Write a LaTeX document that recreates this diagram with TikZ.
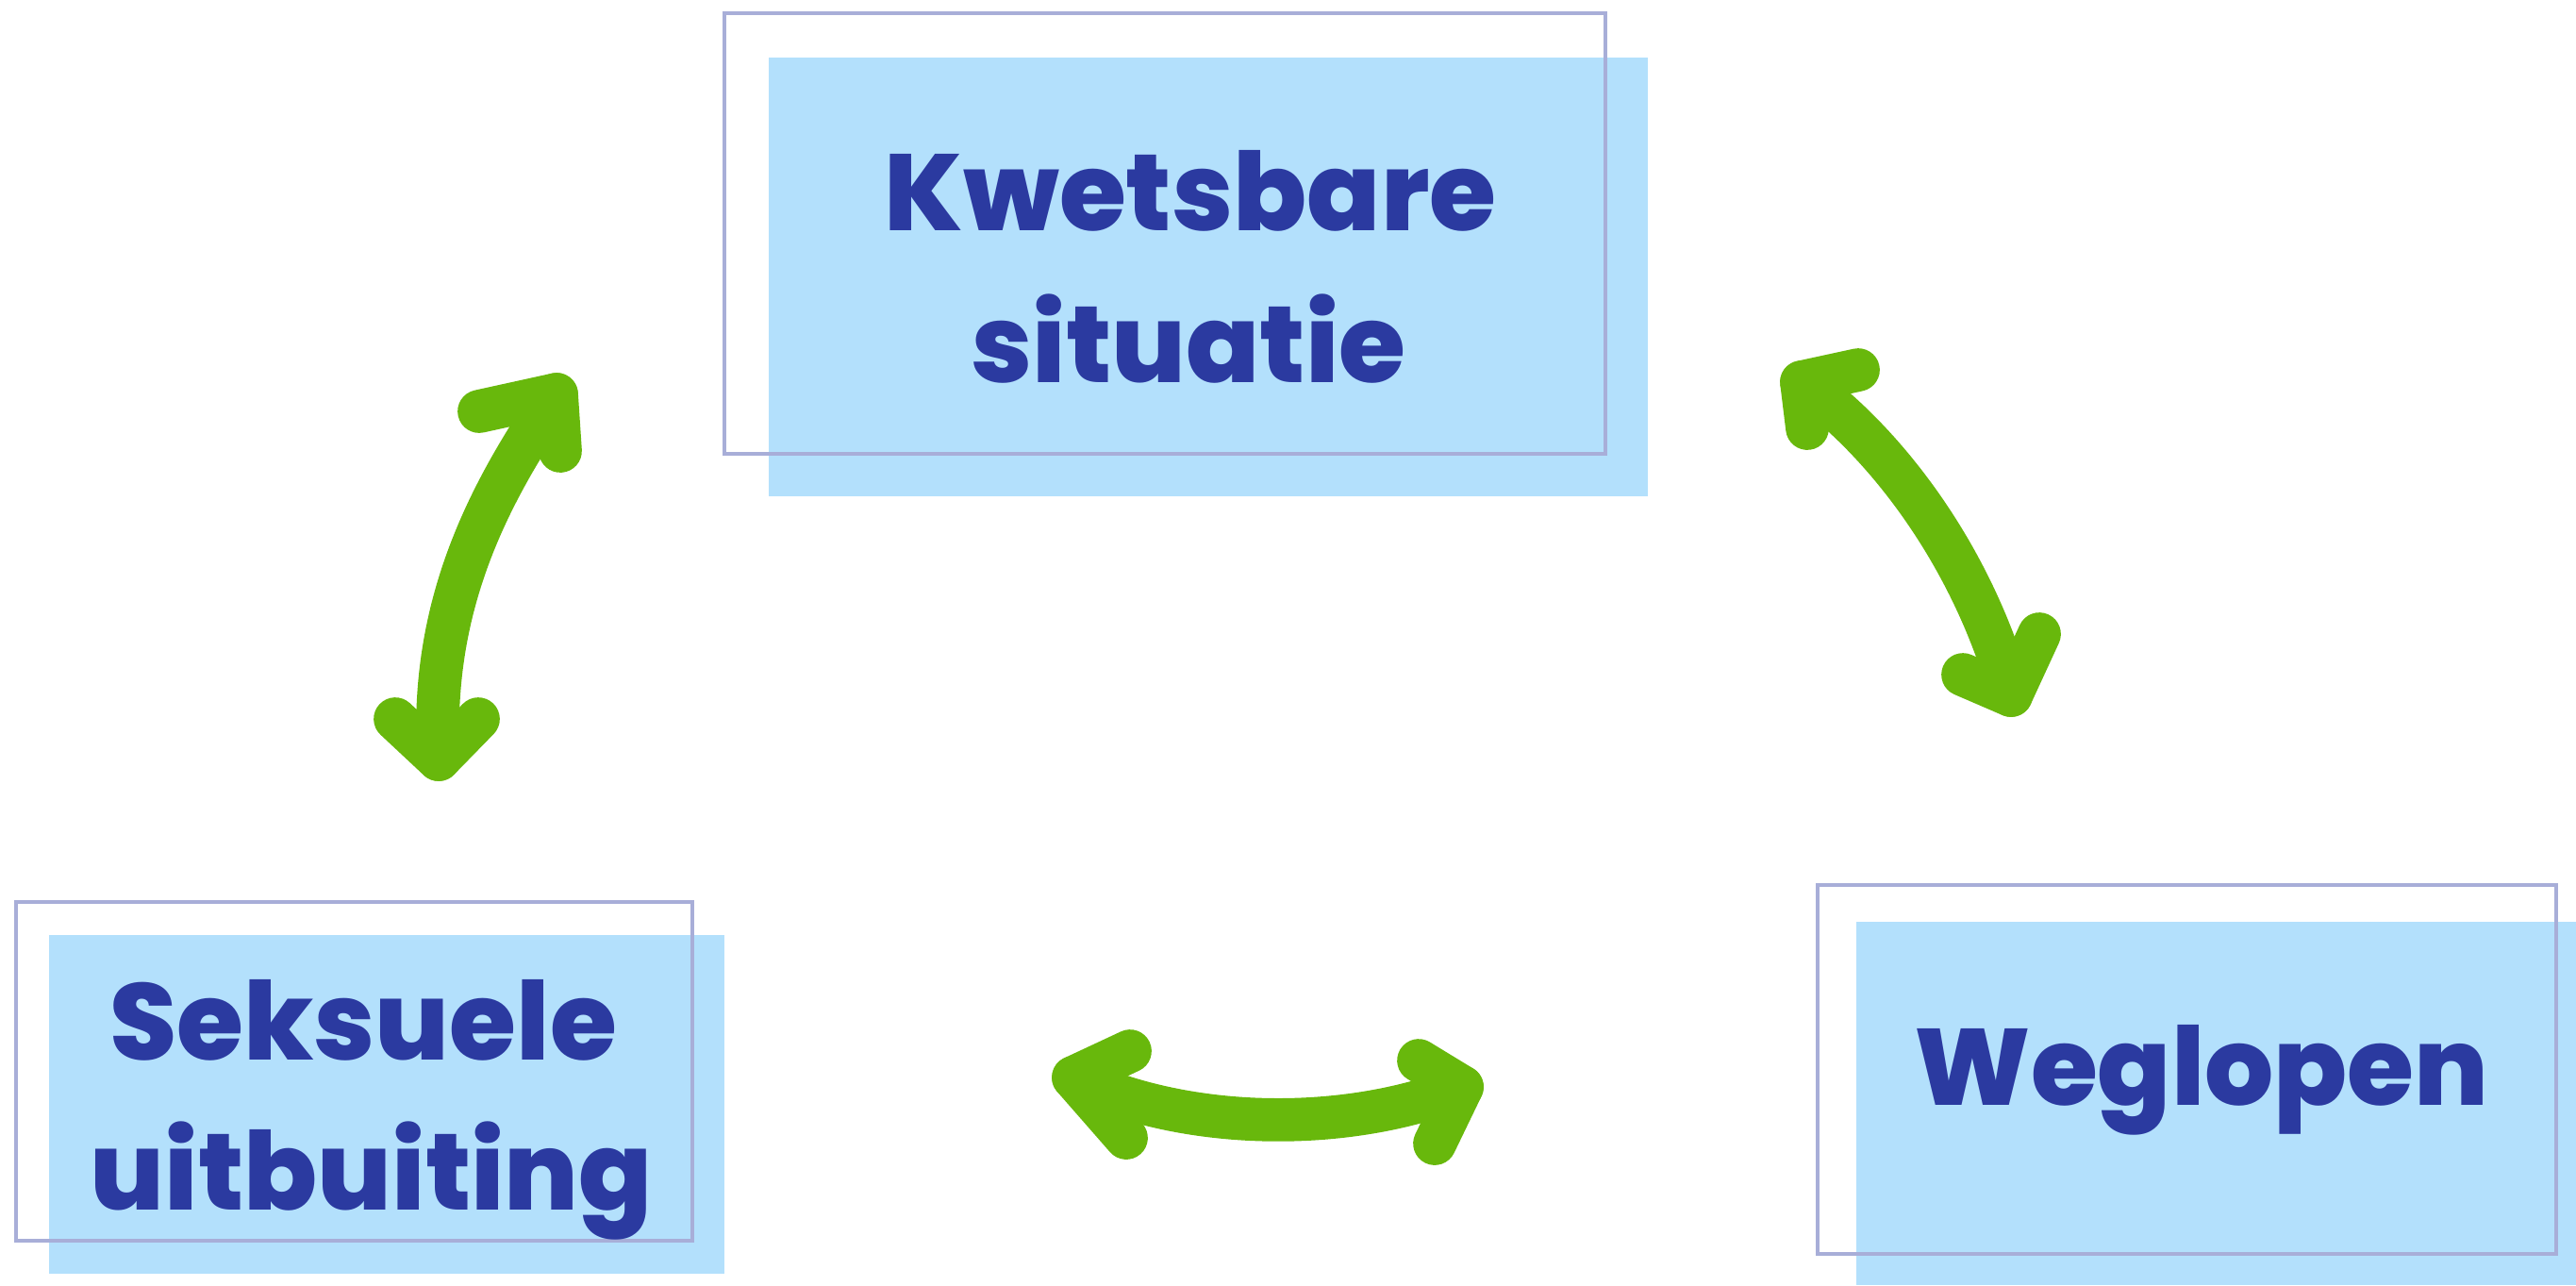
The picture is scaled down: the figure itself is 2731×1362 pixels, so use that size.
\documentclass[tikz,border=0pt]{standalone}
\usepackage{fontspec}
\setmainfont{Poppins}[BoldFont={Poppins ExtraBold}]
\definecolor{boxfill}{RGB}{179,224,252}
\definecolor{boxline}{RGB}{168,174,216}
\definecolor{txt}{RGB}{43,58,160}
\definecolor{arrowgreen}{RGB}{104,184,12}
\begin{document}
\begin{tikzpicture}[x=0.01cm,y=-0.01cm,
  fillbox/.style={fill=boxfill},
  framebox/.style={draw=boxline, line width=1.2pt},
  lbl/.style={text=txt, font=\fontsize{32.7}{40}\selectfont\bfseries, inner sep=0pt, anchor=base},
  arrowline/.style={draw=arrowgreen, line width=13pt, line cap=round, line join=round}]
\useasboundingbox (0,0) rectangle (2731,1362);
% boxes
\fill[fillbox] (815,61) rectangle (1747,526);
\draw[framebox] (768,14) rectangle (1702,481);
\fill[fillbox] (52,991) rectangle (768,1350);
\draw[framebox] (17,956) rectangle (734,1315);
\fill[fillbox] (1968,977) rectangle (2731,1362);
\draw[framebox] (1927,938) rectangle (2710,1329);
% labels
\node[lbl] (kw1) at (1262,244) {Kwetsbare};
\node[lbl] (kw2) at (1260,405) {situatie};
\node[lbl] (se1) at (385,1123) {Seksuele};
\node[lbl] (se2) at (394,1282) {uitbuiting};
\node[lbl] (we1) at (2334,1171) {Weglopen};
% arrow coordinates
\coordinate (la) at (590,418);
\coordinate (lb) at (465,805);
\coordinate (la1) at (508,436);
\coordinate (la2) at (594,478);
\coordinate (lb1) at (419,762);
\coordinate (lb2) at (507,762);
\coordinate (ra) at (1910,405);
\coordinate (rb) at (2132,737);
\coordinate (ra1) at (1970,392);
\coordinate (ra2) at (1916,454);
\coordinate (rb1) at (2081,715);
\coordinate (rb2) at (2162,672);
\coordinate (ba) at (1138,1142);
\coordinate (bb) at (1550,1152);
\coordinate (ba1) at (1198,1114);
\coordinate (ba2) at (1194,1206);
\coordinate (bb1) at (1504,1124);
\coordinate (bb2) at (1521,1212);
% left arrow
\draw[arrowline] (lb) .. controls (455,640) and (520,520) .. (la);
\draw[arrowline] (la1) -- (la) -- (la2);
\draw[arrowline] (lb1) -- (lb) -- (lb2);
% right arrow
\draw[arrowline] (ra) .. controls (1995,465) and (2090,585) .. (rb);
\draw[arrowline] (ra1) -- (ra) -- (ra2);
\draw[arrowline] (rb1) -- (rb) -- (rb2);
% bottom arrow
\draw[arrowline] (ba) .. controls (1260,1200) and (1430,1200) .. (bb);
\draw[arrowline] (ba1) -- (ba) -- (ba2);
\draw[arrowline] (bb1) -- (bb) -- (bb2);
\end{tikzpicture}
\end{document}
